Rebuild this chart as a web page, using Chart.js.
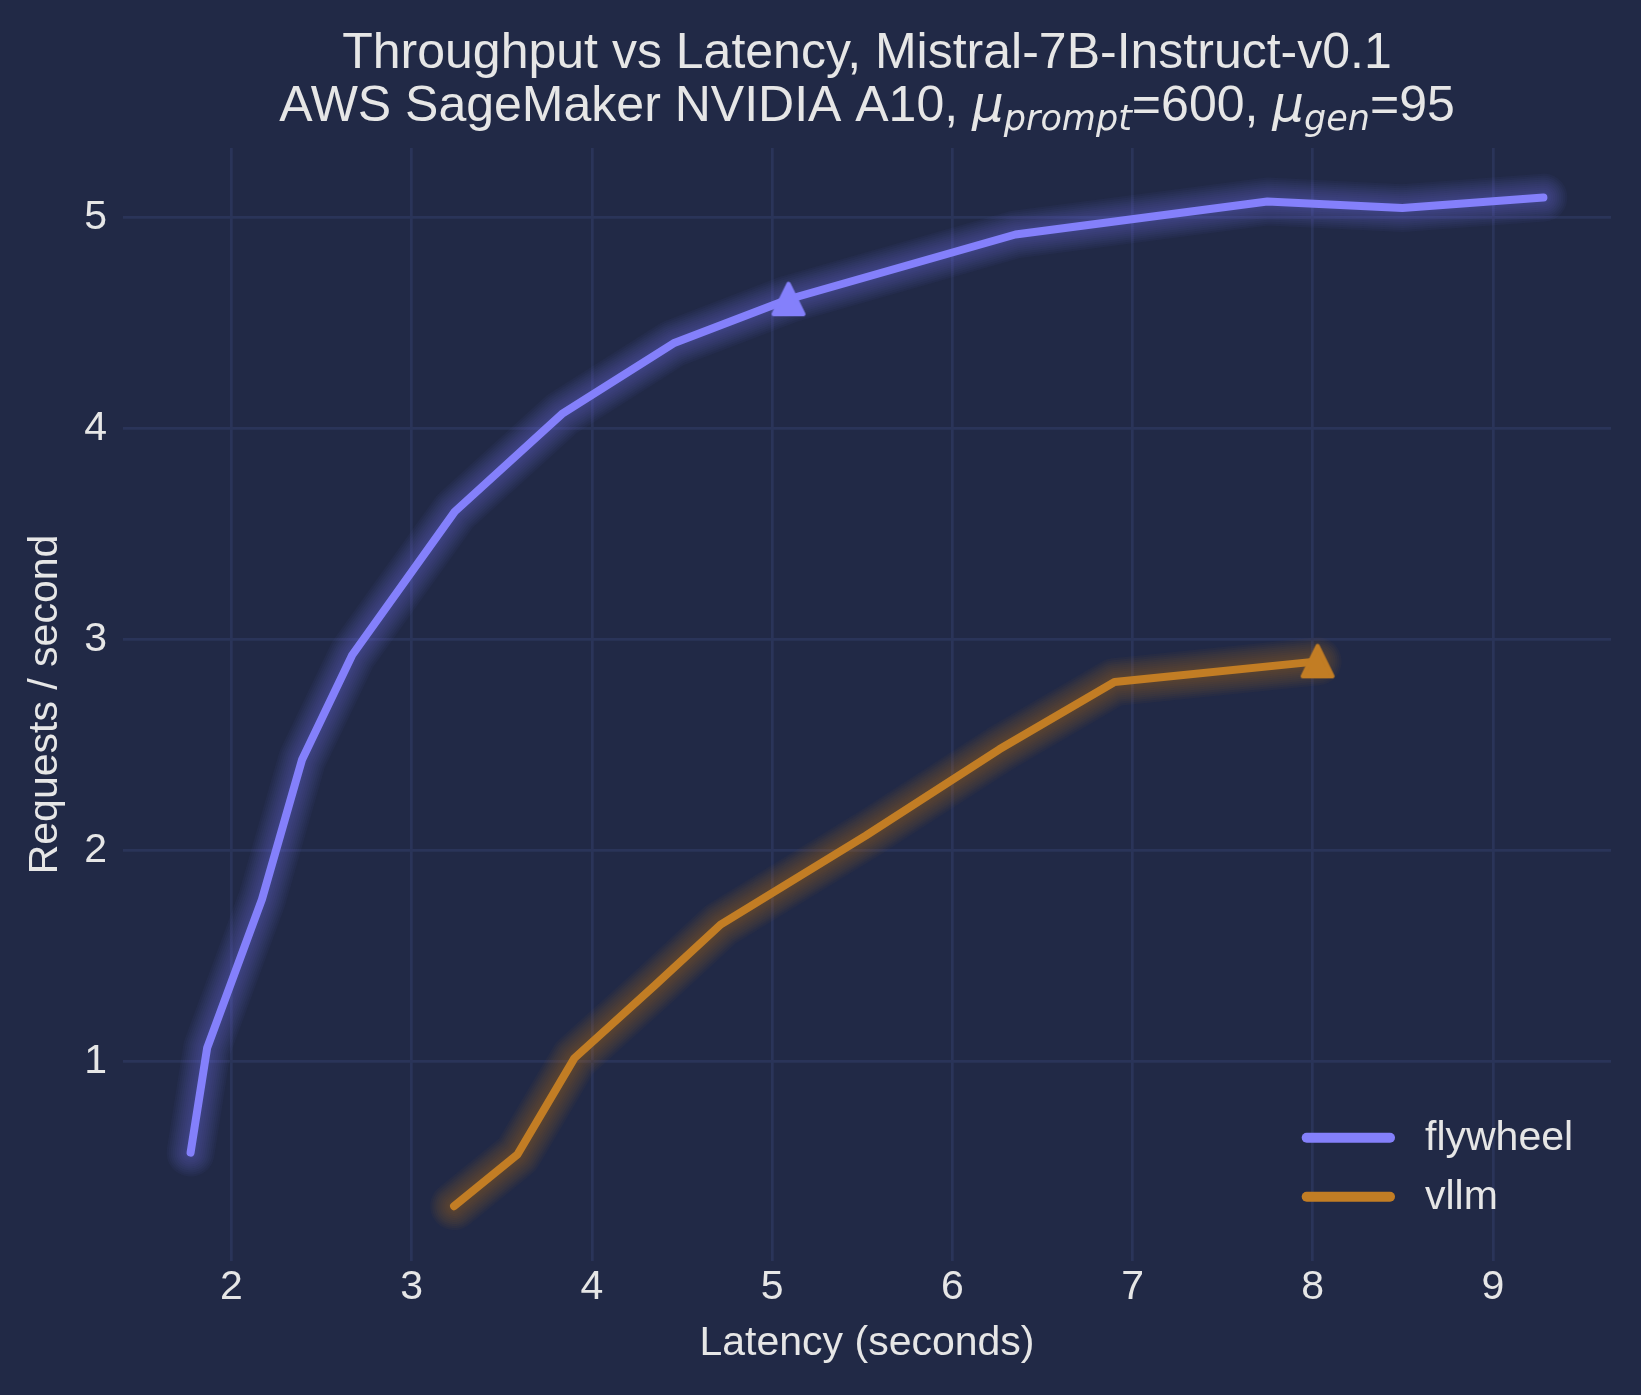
<!DOCTYPE html>
<html>
<head>
<meta charset="utf-8">
<script src="https://cdn.jsdelivr.net/npm/chart.js@4.4.1/dist/chart.umd.min.js"></script>
<style>
  html, body { margin: 0; padding: 0; background: #212946; }
  #wrap { width: 1641px; height: 1395px; position: relative; }
</style>
</head>
<body>
<div id="wrap"><canvas id="c"></canvas></div>
<script>
// ---------------- data ----------------
const titleLine1 = 'Throughput vs Latency, Mistral-7B-Instruct-v0.1';
const titleLine2 = [
  { text: 'AWS SageMaker NVIDIA A10, ' },
  { text: 'μ', math: true },
  { text: 'prompt', math: true, sub: true },
  { text: '=600, ' },
  { text: 'μ', math: true },
  { text: 'gen', math: true, sub: true },
  { text: '=95' }
];
const xAxisTitle = 'Latency (seconds)';
const yAxisTitle = 'Requests / second';
const seriesNames = ['flywheel', 'vllm'];

const flywheelLatency    = [1.773, 1.865, 2.169, 2.392, 2.670, 3.239, 3.834, 4.453, 5.091, 6.350, 7.748, 8.497, 9.280];
const flywheelThroughput = [0.567, 1.064, 1.768, 2.431, 2.926, 3.606, 4.069, 4.404, 4.613, 4.920, 5.076, 5.045, 5.095];
const vllmLatency        = [3.235, 3.586, 3.903, 4.350, 4.714, 5.520, 6.261, 6.900, 8.027];
const vllmThroughput     = [0.313, 0.557, 1.015, 1.360, 1.648, 2.070, 2.479, 2.798, 2.896];

const xTicks = [2, 3, 4, 5, 6, 7, 8, 9];
const yTicks = [1, 2, 3, 4, 5];

// ---------------- style ----------------
const BG = '#212946';
const GRID = '#2A3459';
const TEXT = '#E6E6E6';
const COLORS = ['#8480FB', '#C27D24'];
const FONT = '"Liberation Sans", Arial, Helvetica, sans-serif';
const MATH_FONT = '"DejaVu Sans", sans-serif';
const TITLE_SIZE = 50;
const LINE_W = 8;
const MARK_INDEX = 8;

function rgba(hex, a) {
  const n = parseInt(hex.slice(1), 16);
  return `rgba(${(n >> 16) & 255},${(n >> 8) & 255},${n & 255},${a})`;
}
function triangleCanvas(color) {
  const c = document.createElement('canvas');
  c.width = 40; c.height = 40;
  const g = c.getContext('2d');
  g.fillStyle = color; g.strokeStyle = color;
  g.lineWidth = 4; g.lineJoin = 'round';
  g.beginPath();
  g.moveTo(20, 4.5); g.lineTo(35, 35); g.lineTo(5, 35); g.closePath();
  g.fill(); g.stroke();
  return c;
}

const toPts = (xs, ys) => xs.map((x, i) => ({ x, y: ys[i] }));

function makeDataset(name, xs, ys, color) {
  const tri = triangleCanvas(color);
  return {
    label: name,
    data: toPts(xs, ys),
    borderColor: color,
    backgroundColor: color,
    borderWidth: LINE_W,
    borderCapStyle: 'round',
    borderJoinStyle: 'round',
    tension: 0,
    fill: false,
    pointStyle: tri,
    pointRadius: (ctx) => ctx.dataIndex === MARK_INDEX ? 17 : 0,
    pointHoverRadius: (ctx) => ctx.dataIndex === MARK_INDEX ? 17 : 0,
    pointBorderWidth: 0
  };
}

// glow similar to mplcyberpunk: stacked translucent wider strokes
const glowPlugin = {
  id: 'glow',
  beforeDatasetDraw(chart, args) {
    const pts = args.meta.data;
    if (!pts.length) return;
    const ds = chart.data.datasets[args.index];
    const ctx = chart.ctx, a = chart.chartArea;
    ctx.save();
    ctx.beginPath();
    ctx.rect(a.left, a.top, a.right - a.left, a.bottom - a.top);
    ctx.clip();
    ctx.lineJoin = 'round';
    ctx.lineCap = 'round';
    for (let n = 1; n <= 10; n++) {
      ctx.beginPath();
      pts.forEach((p, i) => i ? ctx.lineTo(p.x, p.y) : ctx.moveTo(p.x, p.y));
      ctx.lineWidth = LINE_W + 4 * n;
      ctx.strokeStyle = rgba(ds.borderColor, 0.04);
      ctx.stroke();
    }
    ctx.restore();
  }
};

const bgPlugin = {
  id: 'bg',
  beforeDraw(chart) {
    const ctx = chart.ctx;
    ctx.save();
    ctx.fillStyle = BG;
    ctx.fillRect(0, 0, chart.width, chart.height);
    ctx.restore();
  }
};

// center the title over the plot area (as matplotlib does)
const titleCenterPlugin = {
  id: 'titleCenter',
  afterLayout(chart) {
    if (chart.titleBlock) {
      chart.titleBlock.left = chart.chartArea.left;
      chart.titleBlock.right = chart.chartArea.right;
    }
  }
};

// second title line with math-style μ and subscripts
const subtitlePlugin = {
  id: 'richSubtitle',
  afterDraw(chart) {
    const ctx = chart.ctx, a = chart.chartArea;
    const size = TITLE_SIZE, subSize = TITLE_SIZE * 0.7;
    const fontOf = (s) => s.sub ? `italic ${subSize}px ${MATH_FONT}`
                      : s.math ? `italic ${size}px ${MATH_FONT}` : `${size}px ${FONT}`;
    ctx.save();
    let total = 0;
    const widths = titleLine2.map(s => { ctx.font = fontOf(s); const w = ctx.measureText(s.text).width; total += w; return w; });
    let x = (a.left + a.right) / 2 - total / 2;
    const base = chart.titleBlock.top + 121;
    ctx.fillStyle = TEXT;
    ctx.textBaseline = 'alphabetic';
    ctx.textAlign = 'left';
    titleLine2.forEach((s, i) => {
      ctx.font = fontOf(s);
      ctx.fillText(s.text, x, s.sub ? base + 8.5 : base);
      x += widths[i];
    });
    ctx.restore();
  }
};

// legend inside the plot, lower right, no frame
const legendPlugin = {
  id: 'innerLegend',
  afterDraw(chart) {
    const ctx = chart.ctx, a = chart.chartArea;
    ctx.save();
    chart.data.datasets.forEach((ds, i) => {
      const y = a.bottom - 123.3 + i * 59;
      const x0 = a.right - 304.3, x1 = a.right - 221;
      ctx.strokeStyle = ds.borderColor;
      ctx.lineWidth = 10;
      ctx.lineCap = 'round';
      ctx.beginPath(); ctx.moveTo(x0, y); ctx.lineTo(x1, y); ctx.stroke();
      ctx.fillStyle = TEXT;
      ctx.font = `41px ${FONT}`;
      ctx.textBaseline = 'middle';
      ctx.textAlign = 'left';
      ctx.fillText(ds.label, a.right - 186, y + 1);
    });
    ctx.restore();
  }
};

Chart.defaults.font.family = FONT;
Chart.defaults.color = TEXT;

new Chart(document.getElementById('c'), {
  type: 'line',
  data: {
    datasets: [
      makeDataset(seriesNames[0], flywheelLatency, flywheelThroughput, COLORS[0]),
      makeDataset(seriesNames[1], vllmLatency, vllmThroughput, COLORS[1])
    ]
  },
  options: {
    responsive: true,
    maintainAspectRatio: false,
    animation: false,
    events: [],
    layout: { padding: { left: 0, right: 30, top: 0, bottom: 0 } },
    plugins: {
      legend: { display: false },
      tooltip: { enabled: false },
      title: {
        display: true,
        text: titleLine1,
        color: TEXT,
        font: { size: TITLE_SIZE, weight: 'normal', family: FONT, lineHeight: 1.2 },
        padding: { top: 24.5, bottom: 63.5 }
      }
    },
    scales: {
      x: {
        type: 'linear',
        min: 1.398,
        max: 9.655,
        afterBuildTicks: (s) => { s.ticks = xTicks.map(v => ({ value: v })); },
        afterFit: (s) => { s.height = 134; },
        grid: { color: GRID, lineWidth: 2.7, drawTicks: false },
        border: { display: false },
        ticks: { color: TEXT, font: { size: 41 }, padding: 2, autoSkip: false, maxRotation: 0,
                 callback: (v) => String(v) },
        title: { display: true, text: xAxisTitle, color: TEXT, font: { size: 41 }, padding: { top: 0, bottom: 27 } }
      },
      y: {
        type: 'linear',
        min: 0.053,
        max: 5.33,
        afterBuildTicks: (s) => { s.ticks = yTicks.map(v => ({ value: v })); },
        afterFit: (s) => { s.width = 123; },
        grid: { color: GRID, lineWidth: 2.7, drawTicks: false },
        border: { display: false },
        ticks: { color: TEXT, font: { size: 41 }, padding: 16, autoSkip: false,
                 callback: (v) => String(v) },
        title: { display: true, text: yAxisTitle, color: TEXT, font: { size: 41 }, padding: { top: 21.5, bottom: 0 } }
      }
    }
  },
  plugins: [bgPlugin, titleCenterPlugin, glowPlugin, subtitlePlugin, legendPlugin]
});
</script>
</body>
</html>
